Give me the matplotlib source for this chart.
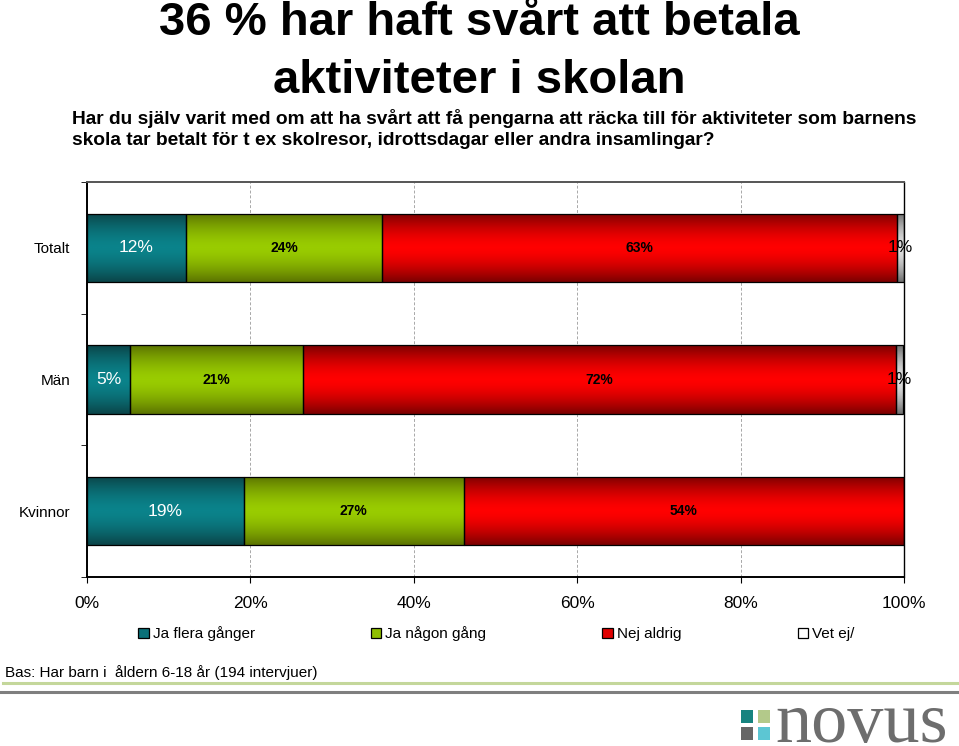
import numpy as np
import matplotlib.pyplot as plt
from matplotlib.colors import LinearSegmentedColormap
from matplotlib.patches import Rectangle

plt.rcParams['font.family'] = ['Liberation Sans', 'DejaVu Sans']

groups = ['Totalt', 'Män', 'Kvinnor']
series = ['Ja flera gånger', 'Ja någon gång', 'Nej aldrig', 'Vet ej/']
# values (percent)
ja_flera = [12.1, 5.3, 19.2]
ja_nagon = [24.0, 21.1, 26.9]
nej_aldrig = [63.0, 72.6, 53.9]
vet_ej = [0.9, 0.9, 0.0]
# labels printed in the bars
lbl_flera = ['12%', '5%', '19%']
lbl_nagon = ['24%', '21%', '27%']
lbl_nej = ['63%', '72%', '54%']
lbl_vet = ['1%', '1%', '']

xticks = [0, 20, 40, 60, 80, 100]
xticklabels = ['0%', '20%', '40%', '60%', '80%', '100%']

# (edge colour, middle colour) for the shaded bars
shades = [('#0b4448', '#0a838b'), ('#5b7300', '#99cc00'),
          ('#7a0000', '#ff0000'), ('#6e6e6e', '#e0e0e0')]
legend_cols = ['#0a7078', '#8fbf00', '#e00000', '#ffffff']
label_style = [dict(color='white', fontsize=12.5),
               dict(color='black', fontsize=10, fontweight='bold'),
               dict(color='black', fontsize=10, fontweight='bold'),
               dict(color='black', fontsize=12.5)]

fig = plt.figure(figsize=(9.59, 7.46), dpi=100)
ax = fig.add_axes([87 / 959, 1 - 577 / 746, 817 / 959, 395 / 746])

y = np.arange(len(groups))
data = [ja_flera, ja_nagon, nej_aldrig, vet_ej]
labels = [lbl_flera, lbl_nagon, lbl_nej, lbl_vet]
left = np.zeros(len(groups))
grad = np.abs(np.linspace(-1, 1, 200))[:, None]
grad = 1 - grad ** 1.6
for vals, lbls, (dark, light), st in zip(data, labels, shades, label_style):
    cmap = LinearSegmentedColormap.from_list('s', [dark, light])
    bars = ax.barh(y, vals, left=left, height=0.52, facecolor='none',
                   edgecolor='black', linewidth=0.9, zorder=3)
    for b, t in zip(bars, lbls):
        if b.get_width() <= 0:
            continue
        x0, y0, w, h = b.get_x(), b.get_y(), b.get_width(), b.get_height()
        im = ax.imshow(grad, cmap=cmap, aspect='auto', zorder=2,
                       extent=(x0, x0 + w, y0 + h, y0), vmin=0, vmax=1,
                       interpolation='bilinear')
        clip = Rectangle((x0, y0), w, h, transform=ax.transData)
        im.set_clip_path(clip)
        ax.text(x0 + w / 2, y0 + h / 2, t, ha='center', va='center',
                zorder=4, **st)
    left = left + np.array(vals)

ax.set_xlim(0, 100)
ax.set_ylim(2.5, -0.5)
ax.set_xticks(xticks)
ax.set_xticklabels(xticklabels, fontsize=12.5)
ax.set_yticks(y)
ax.set_yticklabels(groups, fontsize=11)
ax.tick_params(axis='y', length=0, pad=12)
ax.set_yticks([-0.5, 0.5, 1.5, 2.5], minor=True)
ax.tick_params(axis='y', which='minor', length=4, direction='out')
ax.tick_params(axis='x', length=4, direction='out', pad=10)
ax.grid(axis='x', color='#a8a8a8', linestyle=(0, (3, 2)), linewidth=0.7,
        zorder=0)
ax.set_axisbelow(True)
for side in ['left', 'bottom']:
    ax.spines[side].set_linewidth(1.4)
    ax.spines[side].set_color('black')
ax.spines['top'].set_color('#555555')
ax.spines['top'].set_linewidth(1.4)
ax.spines['right'].set_linewidth(1.0)

# legend
handles = [Rectangle((0, 0), 1, 1, facecolor=c, edgecolor='black', lw=0.9)
           for c in legend_cols]
fig.legend(handles, series, loc='center left', ncol=4, frameon=False,
           bbox_to_anchor=(138 / 959, 1 - 634 / 746), fontsize=11,
           handlelength=0.7, handleheight=0.7, handletextpad=0.25,
           columnspacing=7.6, borderaxespad=0, borderpad=0)

# titles
fig.text(0.5, 1 - 52 / 746, '36 % har haft svårt att betala\naktiviteter i skolan',
         ha='center', va='center', fontsize=34, fontweight='bold',
         linespacing=1.4)
fig.text(72 / 959, 1 - 129 / 746,
         'Har du själv varit med om att ha svårt att få pengarna att räcka till för aktiviteter som barnens\n'
         'skola tar betalt för t ex skolresor, idrottsdagar eller andra insamlingar?',
         ha='left', va='center', fontsize=13.8, fontweight='bold',
         linespacing=1.25)

# footer
fig.text(5 / 959, 1 - 673 / 746, 'Bas: Har barn i  åldern 6-18 år (194 intervjuer)',
         ha='left', va='center', fontsize=11)
fig.add_artist(plt.Line2D([3 / 959, 1], [1 - 683 / 746] * 2, color='#c4d79b',
                          lw=2.2, transform=fig.transFigure))
fig.add_artist(plt.Line2D([0, 1], [1 - 692 / 746] * 2, color='#7f7f7f',
                          lw=2.2, transform=fig.transFigure))

# novus logo
sq = [(741, 710, '#16837f'), (758, 710, '#b3c98a'),
      (741, 727, '#666666'), (758, 727, '#5cc6d3')]
for sx, sy, c in sq:
    fig.add_artist(Rectangle((sx / 959, 1 - (sy + 13) / 746), 12 / 959, 13 / 746,
                             facecolor=c, edgecolor='none',
                             transform=fig.transFigure))
fig.text(775 / 959, 1 - 742 / 746, 'novus', ha='left', va='baseline',
         fontsize=52, color='#6d6d6d', family='Liberation Serif')

fig.savefig('out.png', dpi=100)
